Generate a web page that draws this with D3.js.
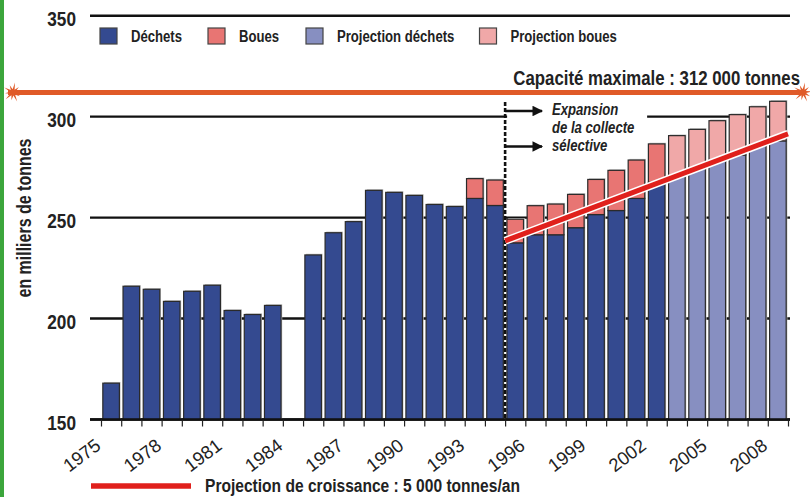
<!DOCTYPE html>
<html><head><meta charset="utf-8">
<script src="https://cdn.jsdelivr.net/npm/d3@7"></script>
<style>
html,body{margin:0;padding:0;background:#fff;}
text{font-family:"Liberation Sans",Arial,sans-serif;}
</style></head>
<body>
<svg id="c" width="810" height="497"></svg>
<script>
const years = [1975,1976,1977,1978,1979,1980,1981,1982,1983,1984,1985,1986,1987,1988,1989,1990,1991,1992,1993,1994,1995,1996,1997,1998,1999,2000,2001,2002,2003,2004,2005,2006,2007,2008];
const dechets = [168,216,214.5,208.5,213.5,216.5,204,202,206.5,null,231.5,242.5,248,263.5,262.5,261,256.5,255.5,259.5,256,237.5,241.5,241.5,245,251.5,253.5,259.5,267.5,270.5,274.5,278,281,285.5,288];
const boues = [0,0,0,0,0,0,0,0,0,0,0,0,0,0,0,0,0,0,9.8,12.6,11.7,14.4,15.2,16.5,17.4,19.9,19,19,20.1,19.2,20,20,19.4,19.6];
const firstProjectionYear = 2003;
const tickLabelYears = [1975,1978,1981,1984,1987,1990,1993,1996,1999,2002,2005,2008];
const yTicks = [150,200,250,300,350];
const capacity = 312;
const growthEdges = [1995, 2009];
const growthValues = [238.5, 291.5];
const selectiveStart = 1995;
const legendItems = ["Déchets","Boues","Projection déchets","Projection boues"];
const annotationLines = ["Expansion","de la collecte","sélective"];

const C = {dech:"#344a90", boue:"#e87573", pdech:"#878fc1", pboue:"#f0a8a8"};
const NARROW = 0.82;

const svg = d3.select("#c");
const x = d3.scaleBand().domain(years).range([101,788]).paddingInner(0.18).paddingOuter(0.09);
const edge = d3.scaleLinear().domain([1975,2009]).range([101,788]);
const y = d3.scaleLinear().domain([150,350]).range([419.5,15.7]);

function ntext(px, py, str, size, opts={}){
  const t = svg.append("text")
    .attr("transform", `translate(${px},${py})` + (opts.rot?` rotate(${opts.rot})`:"") + ` scale(${NARROW},1)`)
    .attr("font-size", size).attr("font-weight","bold").attr("fill","#222")
    .attr("text-anchor", opts.anchor||"start").text(str);
  if(opts.italic) t.attr("font-style","italic");
  return t;
}

// left green bar
svg.append("rect").attr("x",0).attr("y",0).attr("width",4).attr("height",497).attr("fill","#3ca63c");

// gridlines
svg.selectAll("line.grid").data(yTicks).enter().append("line")
  .attr("x1",90).attr("x2",790).attr("y1",d=>y(d)).attr("y2",d=>y(d))
  .attr("stroke","#111").attr("stroke-width",2.4);
// white box behind annotation
svg.append("rect").attr("x",edge(selectiveStart)+2).attr("y",y(300)-6).attr("width",140).attr("height",12).attr("fill","#fff");

// y labels
yTicks.forEach(d=>ntext(76, y(d)+10, d, 21, {anchor:"end"}));

// y title
ntext(31, 218, "en milliers de tonnes", 19.5, {anchor:"middle", rot:-90});

// bars
const rows = years.map((yr,i)=>({yr, d:dechets[i], b:boues[i], proj: yr>=firstProjectionYear})).filter(r=>r.d!=null);
const g = svg.append("g");
rows.forEach(r=>{
  const top = r.d + r.b;
  g.append("rect").attr("x",x(r.yr)+1.2).attr("y",y(top)-1.2).attr("width",x.bandwidth()).attr("height",y(150)-y(top)+1.2)
    .attr("fill","#c4c4c4");
  g.append("rect").attr("x",x(r.yr)).attr("y",y(r.d)).attr("width",x.bandwidth()).attr("height",y(150)-y(r.d))
    .attr("fill",r.proj?C.pdech:C.dech).attr("stroke","#2a2a2a").attr("stroke-width",1.2);
  if(r.b>0){
    g.append("rect").attr("x",x(r.yr)).attr("y",y(top)).attr("width",x.bandwidth()).attr("height",y(r.d)-y(top))
      .attr("fill",r.proj?C.pboue:C.boue).attr("stroke","#2a2a2a").attr("stroke-width",1.2);
  }
});

// baseline axis
svg.append("line").attr("x1",90).attr("x2",790).attr("y1",y(150)).attr("y2",y(150)).attr("stroke","#111").attr("stroke-width",2.4);
const xAxis = d3.axisBottom(edge).tickValues(d3.range(1975,2010)).tickSize(7).tickFormat("");
const ax = svg.append("g").attr("transform",`translate(0,${y(150)})`).call(xAxis);
ax.select(".domain").remove();
ax.selectAll(".tick line").attr("stroke","#222").attr("stroke-width",1.2);

// x labels
svg.selectAll("text.xl").data(tickLabelYears).enter().append("text")
  .attr("transform",d=>`translate(${edge(d)+1},448) rotate(-37)`).attr("text-anchor","end")
  .attr("font-size",18.5).attr("fill","#222").text(d=>d);

// dashed line
svg.append("line").attr("x1",edge(selectiveStart)).attr("x2",edge(selectiveStart)).attr("y1",102).attr("y2",y(150))
  .attr("stroke","#111").attr("stroke-width",2.6).attr("stroke-dasharray","4,2");
// arrows
const defs = svg.append("defs");
defs.append("marker").attr("id","ah").attr("viewBox","0 0 10 10").attr("refX",9).attr("refY",5)
  .attr("markerWidth",5.2).attr("markerHeight",4.4).attr("orient","auto").attr("markerUnits","strokeWidth")
  .append("path").attr("d","M0,0L10,5L0,10z").attr("fill","#111");
[111,146.5].forEach(yy=>{
  svg.append("line").attr("x1",edge(selectiveStart)).attr("x2",542).attr("y1",yy).attr("y2",yy)
    .attr("stroke","#111").attr("stroke-width",2.4).attr("marker-end","url(#ah)");
});
annotationLines.forEach((d,i)=>ntext(552, 114.5+i*18, d, 16, {italic:true}));

// growth projection line
const gl = d3.line().x(d=>edge(d[0])).y(d=>y(d[1]));
const gdata = growthEdges.map((e,i)=>[e,growthValues[i]]);
svg.append("path").attr("d",gl(gdata)).attr("stroke","#fff").attr("stroke-width",8).attr("fill","none");
svg.append("path").attr("d",gl(gdata)).attr("stroke","#e0201c").attr("stroke-width",5).attr("fill","none");

// capacity line
svg.append("line").attr("x1",8).attr("x2",804).attr("y1",y(capacity)).attr("y2",y(capacity))
  .attr("stroke","#e05a28").attr("stroke-width",5);
function star(cx,cy){
  const pts=[]; const n=10;
  for(let i=0;i<n*2;i++){
    const r = i%2===0 ? (i%4===0?10:8) : 3.2;
    const a = Math.PI*i/n - Math.PI/2 + 0.2;
    pts.push([cx+r*Math.cos(a), cy+r*Math.sin(a)]);
  }
  svg.append("path").attr("d","M"+pts.map(p=>p.join(",")).join("L")+"Z").attr("fill","#e05a28");
}
star(13,y(capacity)); star(803,y(capacity));
ntext(800, 85, "Capacité maximale : "+capacity+" 000 tonnes", 20.5, {anchor:"end"});

// legend top
const legX = [100,208,306,479.5];
const legC = [C.dech,C.boue,C.pdech,C.pboue];
legendItems.forEach((t,i)=>{
  svg.append("rect").attr("x",legX[i]).attr("y",28).attr("width",17).attr("height",16).attr("fill",legC[i]).attr("stroke","#444").attr("stroke-width",1.2);
  ntext(legX[i]+31, 42.3, t, 16);
});

// bottom legend
svg.append("line").attr("x1",91).attr("x2",191).attr("y1",486).attr("y2",486).attr("stroke","#e0201c").attr("stroke-width",5.3);
ntext(205, 491.7, "Projection de croissance : 5 000 tonnes/an", 19);
</script>
</body></html>
